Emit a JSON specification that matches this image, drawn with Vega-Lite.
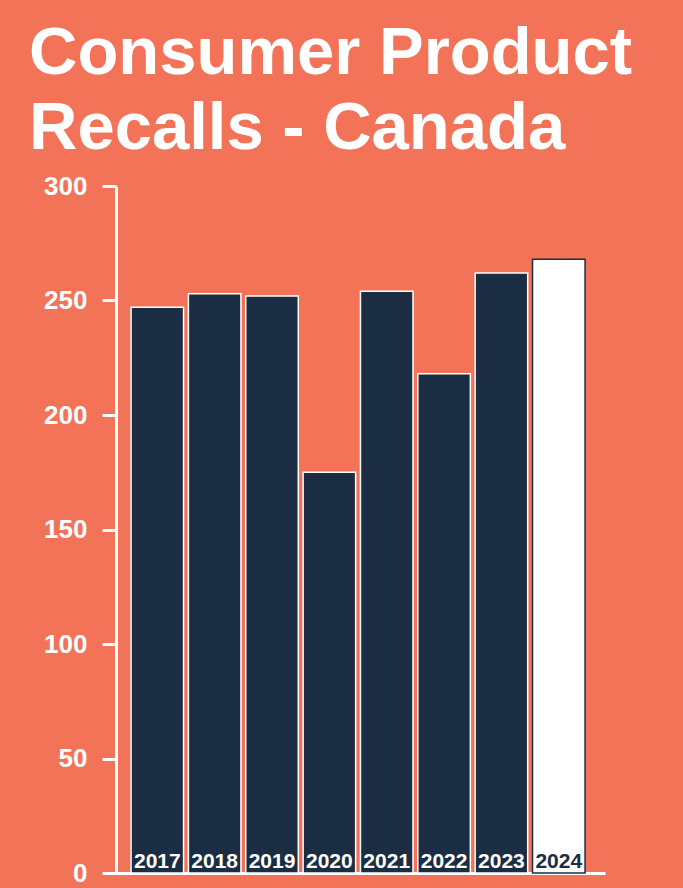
{
  "$schema": "https://vega.github.io/schema/vega-lite/v6.json",
  "width": 489,
  "height": 687,
  "autosize": {"type": "none"},
  "padding": {"left": 116, "top": 186, "right": 78, "bottom": 15},
  "background": "#F37358",
  "title": {
    "text": ["Consumer Product", "Recalls - Canada"],
    "anchor": "start",
    "frame": "group",
    "font": "Liberation Sans",
    "fontWeight": "bold",
    "fontSize": 67,
    "lineHeight": 75,
    "color": "white",
    "baseline": "alphabetic",
    "dx": -87,
    "dy": 77,
    "offset": 34
  },
  "config": {
    "view": {"stroke": null},
    "font": "Liberation Sans"
  },
  "data": {
    "values": [
      {"year": "2017", "recalls": 247, "current": "no"},
      {"year": "2018", "recalls": 253, "current": "no"},
      {"year": "2019", "recalls": 252, "current": "no"},
      {"year": "2020", "recalls": 175, "current": "no"},
      {"year": "2021", "recalls": 254, "current": "no"},
      {"year": "2022", "recalls": 218, "current": "no"},
      {"year": "2023", "recalls": 262, "current": "no"},
      {"year": "2024", "recalls": 268, "current": "yes"}
    ]
  },
  "encoding": {
    "x": {
      "field": "year",
      "type": "nominal",
      "scale": {"paddingInner": 0.084, "paddingOuter": 0.305, "align": 0.43},
      "axis": {
        "title": null,
        "labels": false,
        "ticks": false,
        "domainColor": "white",
        "domainWidth": 3
      }
    }
  },
  "layer": [
    {
      "mark": {"type": "bar", "strokeWidth": 1.5},
      "encoding": {
        "y": {
          "field": "recalls",
          "type": "quantitative",
          "scale": {"domain": [0, 300], "nice": false},
          "axis": {
            "title": null,
            "values": [0, 50, 100, 150, 200, 250, 300],
            "grid": false,
            "domainColor": "white",
            "domainWidth": 3,
            "tickColor": "white",
            "tickWidth": 3,
            "tickSize": 14,
            "labelColor": "white",
            "labelFont": "Liberation Sans",
            "labelFontWeight": "bold",
            "labelFontSize": 26,
            "labelPadding": 15
          }
        },
        "fill": {
          "field": "current",
          "type": "nominal",
          "scale": {"domain": ["no", "yes"], "range": ["#1B2D42", "#FFFFFF"]},
          "legend": null
        },
        "stroke": {
          "field": "current",
          "type": "nominal",
          "scale": {"domain": ["no", "yes"], "range": ["#FFFFFF", "#1B2D42"]},
          "legend": null
        }
      }
    },
    {
      "mark": {
        "type": "text",
        "font": "Liberation Sans",
        "fontWeight": "bold",
        "fontSize": 21,
        "baseline": "alphabetic",
        "dy": -5
      },
      "encoding": {
        "y": {"datum": 0, "type": "quantitative"},
        "text": {"field": "year"},
        "color": {
          "field": "current",
          "type": "nominal",
          "scale": {"domain": ["no", "yes"], "range": ["#FFFFFF", "#1B2D42"]},
          "legend": null
        }
      }
    }
  ]
}
